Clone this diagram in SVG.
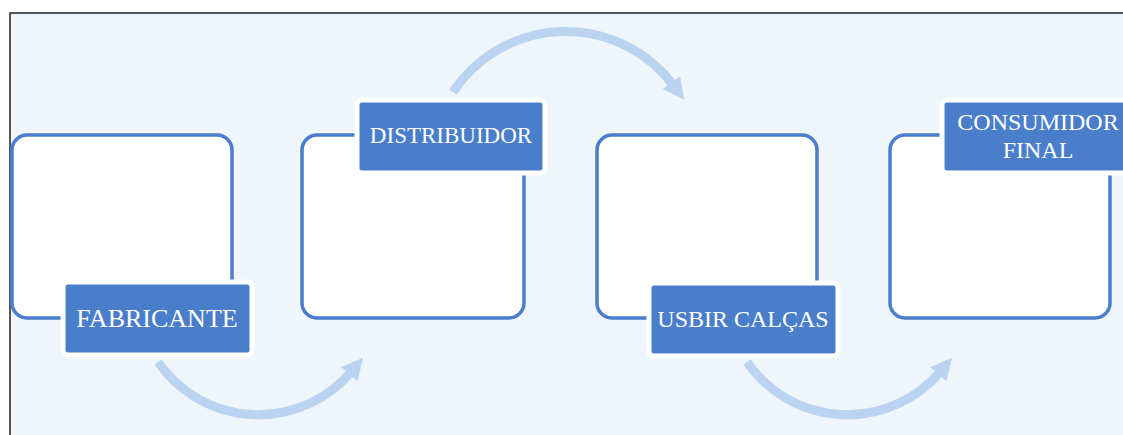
<svg xmlns="http://www.w3.org/2000/svg" width="1123" height="435" viewBox="0 0 1123 435">
<style>
.box{fill:#ffffff;stroke:#4a7dcc;stroke-width:3.5}
.lbl{fill:#4a7ecb;stroke:#ffffff;stroke-width:5}
.txt{font-family:"Liberation Serif","Times New Roman",serif;fill:#ffffff;text-anchor:middle}
.arc{fill:none;stroke:#b9d3f1;stroke-width:9;marker-end:url(#ah)}
</style>
<defs>
<marker id="ah" viewBox="0 0 10 10" refX="2" refY="5" markerWidth="2.4" markerHeight="2.4" orient="auto" markerUnits="strokeWidth">
<path d="M0,0 L10,5 L0,10 z" fill="#b9d3f1"/>
</marker>
</defs>
<rect x="0" y="0" width="1123" height="435" fill="#ffffff"/>
<rect x="10" y="13" width="1130" height="440" fill="#eef5fb" stroke="#222" stroke-width="1.5"/>
<g id="connectors">
<path class="arc" d="M158,362 A122,122 0 0 0 352,371"/>
<path class="arc" d="M453,92 A135,135 0 0 1 674,86"/>
<path class="arc" d="M747,362 A122,122 0 0 0 941,371"/>
</g>
<g id="fabricante">
<rect class="box" x="12" y="135" width="220" height="183" rx="15"/>
<rect class="lbl" x="63" y="282" width="189" height="73" rx="5"/>
<text class="txt" x="157" y="327" font-size="26">FABRICANTE</text>
</g>
<g id="distribuidor">
<rect class="box" x="302" y="135" width="222" height="183" rx="15"/>
<rect class="lbl" x="357" y="100" width="188" height="73" rx="5"/>
<text class="txt" x="451" y="143" font-size="23">DISTRIBUIDOR</text>
</g>
<g id="usbir">
<rect class="box" x="597" y="135" width="220" height="183" rx="15"/>
<rect class="lbl" x="649" y="283" width="189" height="73" rx="5"/>
<text class="txt" x="743" y="327" font-size="24">USBIR CALÇAS</text>
</g>
<g id="consumidor">
<rect class="box" x="890" y="135" width="220" height="183" rx="15"/>
<rect class="lbl" x="942" y="100" width="192" height="73" rx="5"/>
<text class="txt" x="1038" y="130" font-size="24">CONSUMIDOR</text>
<text class="txt" x="1038" y="158" font-size="24">FINAL</text>
</g>
</svg>
